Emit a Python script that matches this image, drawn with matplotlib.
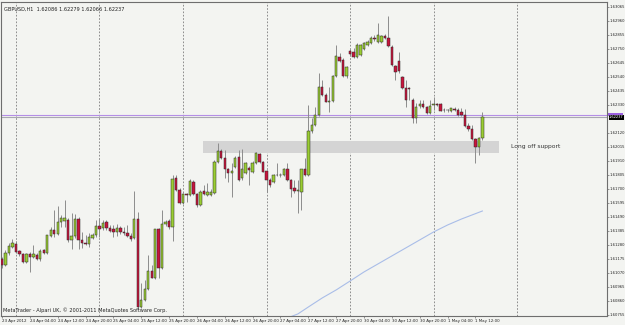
import matplotlib
matplotlib.use("Agg")
import matplotlib.pyplot as plt
import matplotlib.transforms as mtransforms
from matplotlib.patches import Rectangle
import numpy as np

# GBPUSD H1 candles, first bar = 23 Apr 2012 20:00
opens = [
    1.61175, 1.61130, 1.61220, 1.61265, 1.61288, 1.61235, 1.61213, 1.61153, 1.61213, 1.61190,
    1.61205, 1.61175, 1.61243, 1.61220, 1.61348, 1.61393, 1.61363, 1.61453, 1.61460, 1.61468,
    1.61318, 1.61348, 1.61475, 1.61318, 1.61295, 1.61288, 1.61333, 1.61355, 1.61423, 1.61408,
    1.61453, 1.61408, 1.61400, 1.61378, 1.61408, 1.61378, 1.61370, 1.61348, 1.61333, 1.61475,
    1.60815, 1.60868, 1.60950, 1.61085, 1.61033, 1.61400, 1.61108, 1.61438, 1.61460, 1.61415,
    1.61783, 1.61693, 1.61595, 1.61663, 1.61655, 1.61753, 1.61663, 1.61580, 1.61685, 1.61655,
    1.61655, 1.61670, 1.61903, 1.61985, 1.61933, 1.61850, 1.61820, 1.61865, 1.61940, 1.61783,
    1.61820, 1.61858, 1.61828, 1.61895, 1.61963, 1.61903, 1.61835, 1.61768, 1.61753, 1.61805,
    1.61805, 1.61805, 1.61850, 1.61768, 1.61708, 1.61685, 1.61678, 1.61850, 1.61805, 1.62135,
    1.62180, 1.62255, 1.62465, 1.62405, 1.62353, 1.62360, 1.62548, 1.62690, 1.62668, 1.62548,
    1.62735, 1.62728, 1.62690, 1.62705, 1.62750, 1.62780, 1.62795, 1.62833, 1.62803, 1.62803,
    1.62848, 1.62833, 1.62765, 1.62623, 1.62660, 1.62540, 1.62458, 1.62458, 1.62368, 1.62233,
    1.62323, 1.62338, 1.62315, 1.62270, 1.62330, 1.62338, 1.62338, 1.62293, 1.62293, 1.62285,
    1.62300, 1.62293, 1.62278, 1.62255, 1.62173, 1.62150, 1.62075, 1.62015, 1.62086,
]
highs = [
    1.61190, 1.61243, 1.61295, 1.61325, 1.61310, 1.61243, 1.61220, 1.61220, 1.61228, 1.61280,
    1.61220, 1.61250, 1.61250, 1.61355, 1.61415, 1.61543, 1.61573, 1.61505, 1.61618, 1.61483,
    1.61520, 1.61513, 1.61490, 1.61378, 1.61355, 1.61370, 1.61370, 1.61468, 1.61483, 1.61468,
    1.61468, 1.61430, 1.61430, 1.61438, 1.61423, 1.61415, 1.61430, 1.61370, 1.61685, 1.61528,
    1.60995, 1.61018, 1.61205, 1.61130, 1.61400, 1.61408, 1.61543, 1.61468, 1.61475, 1.61805,
    1.61805, 1.61708, 1.61670, 1.61670, 1.61775, 1.61768, 1.61670, 1.61693, 1.61730, 1.61745,
    1.61700, 1.61918, 1.62045, 1.62000, 1.61993, 1.61858, 1.61895, 1.61948, 1.61993, 1.62000,
    1.61903, 1.61873, 1.61910, 1.61978, 1.61970, 1.61910, 1.61843, 1.61783, 1.61813, 1.61895,
    1.61820, 1.61858, 1.61895, 1.61775, 1.61768, 1.61768, 1.61850, 1.61933, 1.62330, 1.62233,
    1.62315, 1.62570, 1.62518, 1.62420, 1.62465, 1.62555, 1.62780, 1.62720, 1.62683, 1.62623,
    1.62750, 1.62758, 1.62795, 1.62788, 1.62803, 1.62818, 1.62848, 1.62855, 1.62945, 1.62855,
    1.62863, 1.62998, 1.62780, 1.62630, 1.62728, 1.62548, 1.62518, 1.62465, 1.62383, 1.62345,
    1.62368, 1.62368, 1.62323, 1.62368, 1.62390, 1.62345, 1.62345, 1.62308, 1.62300, 1.62308,
    1.62315, 1.62308, 1.62308, 1.62300, 1.62195, 1.62180, 1.62083, 1.62090, 1.62279,
]
lows = [
    1.61108, 1.61123, 1.61205, 1.61258, 1.61220, 1.61198, 1.61145, 1.61145, 1.61078, 1.61183,
    1.61168, 1.61160, 1.61213, 1.61213, 1.61340, 1.61340, 1.61355, 1.61415, 1.61415, 1.61303,
    1.61250, 1.61333, 1.61250, 1.61258, 1.61280, 1.61265, 1.61325, 1.61340, 1.61340, 1.61393,
    1.61393, 1.61378, 1.61340, 1.61348, 1.61363, 1.61355, 1.61340, 1.61310, 1.61325, 1.60800,
    1.60808, 1.60860, 1.60943, 1.61033, 1.61025, 1.61033, 1.61100, 1.61423, 1.61400, 1.61310,
    1.61685, 1.61588, 1.61588, 1.61603, 1.61648, 1.61655, 1.61565, 1.61573, 1.61655, 1.61648,
    1.61648, 1.61663, 1.61895, 1.61925, 1.61783, 1.61753, 1.61640, 1.61858, 1.61760, 1.61768,
    1.61813, 1.61730, 1.61820, 1.61888, 1.61895, 1.61828, 1.61678, 1.61715, 1.61745, 1.61798,
    1.61790, 1.61798, 1.61760, 1.61640, 1.61670, 1.61520, 1.61543, 1.61798, 1.61798, 1.62120,
    1.62173, 1.62248, 1.62398, 1.62353, 1.62278, 1.62353, 1.62540, 1.62653, 1.62540, 1.62533,
    1.62698, 1.62683, 1.62683, 1.62698, 1.62743, 1.62773, 1.62788, 1.62810, 1.62795, 1.62795,
    1.62825, 1.62765, 1.62623, 1.62518, 1.62570, 1.62450, 1.62315, 1.62368, 1.62195, 1.62195,
    1.62308, 1.62308, 1.62263, 1.62263, 1.62293, 1.62323, 1.62285, 1.62278, 1.62278, 1.62278,
    1.62285, 1.62248, 1.62248, 1.62165, 1.62135, 1.62068, 1.61895, 1.61955, 1.62066,
]
closes = [
    1.61130, 1.61220, 1.61273, 1.61295, 1.61228, 1.61213, 1.61153, 1.61213, 1.61190, 1.61213,
    1.61175, 1.61235, 1.61220, 1.61355, 1.61393, 1.61363, 1.61453, 1.61483, 1.61483, 1.61318,
    1.61348, 1.61475, 1.61318, 1.61295, 1.61288, 1.61340, 1.61355, 1.61423, 1.61400, 1.61445,
    1.61408, 1.61385, 1.61378, 1.61408, 1.61378, 1.61370, 1.61348, 1.61325, 1.61475, 1.60815,
    1.60868, 1.60950, 1.61085, 1.61033, 1.61400, 1.61108, 1.61438, 1.61453, 1.61415, 1.61775,
    1.61693, 1.61595, 1.61663, 1.61655, 1.61760, 1.61663, 1.61580, 1.61678, 1.61663, 1.61678,
    1.61678, 1.61903, 1.61985, 1.61933, 1.61850, 1.61820, 1.61835, 1.61933, 1.61768, 1.61850,
    1.61895, 1.61843, 1.61895, 1.61970, 1.61903, 1.61828, 1.61768, 1.61730, 1.61805, 1.61803,
    1.61808, 1.61850, 1.61768, 1.61700, 1.61685, 1.61693, 1.61850, 1.61805, 1.62135, 1.62180,
    1.62255, 1.62465, 1.62405, 1.62353, 1.62360, 1.62548, 1.62698, 1.62660, 1.62548, 1.62615,
    1.62713, 1.62690, 1.62780, 1.62780, 1.62795, 1.62803, 1.62833, 1.62825, 1.62855, 1.62848,
    1.62833, 1.62773, 1.62630, 1.62578, 1.62585, 1.62458, 1.62368, 1.62450, 1.62233, 1.62315,
    1.62338, 1.62315, 1.62270, 1.62323, 1.62338, 1.62330, 1.62285, 1.62290, 1.62290, 1.62305,
    1.62293, 1.62255, 1.62255, 1.62173, 1.62150, 1.62075, 1.62015, 1.62083, 1.62237,
]

# slow moving average, read at a few bars
ma_bars = [82, 85, 88, 92, 96, 100, 104, 108, 112, 116, 120, 124, 128, 132, 135, 138]
ma_vals = [1.60733, 1.60763, 1.60815, 1.60883, 1.60943, 1.61010, 1.61078, 1.61138,
           1.61198, 1.61258, 1.61318, 1.61378, 1.61430, 1.61475, 1.61505, 1.61535]

# 1.62225 is hidden under the bid box in the original
price_ticks = [1.63065, 1.62960, 1.62855, 1.62750, 1.62645, 1.62540, 1.62435, 1.62330,
               1.62120, 1.62015, 1.61910, 1.61805, 1.61700, 1.61595, 1.61490,
               1.61385, 1.61280, 1.61175, 1.61070, 1.60965, 1.60860, 1.60755]
time_ticks = [0, 8, 16, 24, 32, 40, 48, 56, 64, 72, 80, 88, 96, 104, 112, 120, 128, 136]
time_labels = ["23 Apr 2012", "24 Apr 04:00", "24 Apr 12:00", "24 Apr 20:00",
               "25 Apr 04:00", "25 Apr 12:00", "25 Apr 20:00", "26 Apr 04:00",
               "26 Apr 12:00", "26 Apr 20:00", "27 Apr 04:00", "27 Apr 12:00",
               "27 Apr 20:00", "30 Apr 04:00", "30 Apr 12:00", "30 Apr 20:00",
               "1 May 04:00", "1 May 12:00"]
day_breaks = [4, 28, 52, 76, 100, 124, 148]

bid = 1.62237
zone_start, zone_end = 57.8, 142.8
zone_low, zone_high = 1.6197, 1.6206
ask_line = 1.62255

bg = "#f3f4f1"
bull = "#9acd32"
bear = "#c8143c"

fig = plt.figure(figsize=(6.25, 3.25), dpi=100, facecolor=bg)
ax = fig.add_axes([1 / 625, 9 / 325, 606 / 625, 314 / 325], facecolor=bg)
ax.set_xlim(-0.29, 173.8)
ax.set_ylim(1.607475, 1.631025)

for x in day_breaks:
    ax.axvline(x, color="#7c7c7c", lw=0.6, ls=(0, (2, 2)), zorder=1)

# support zone
ax.fill_between([zone_start, zone_end], zone_low, zone_high, color="#d4d4d4", lw=0, zorder=1)
ax.text(146.3, (zone_low + zone_high) / 2, "Long off support", fontsize=4.3,
        color="#333333", va="center", ha="left", zorder=5)

ax.plot(ma_bars, ma_vals, color="#a9bde8", lw=0.8, zorder=2)

ax.axhline(ask_line, color="#b48ee6", lw=0.8, zorder=2)
ax.axhline(bid, color="#a8a8b0", lw=0.8, zorder=2)

idx = np.arange(len(opens))
o = np.array(opens)
c = np.array(closes)
ax.vlines(idx, lows, highs, color="#8c8c8c", lw=0.7, zorder=3)
bottoms = np.minimum(o, c)
heights = np.maximum(np.abs(c - o), 0.00003)
colors = [bull if cc >= oo else bear for oo, cc in zip(o, c)]
ax.bar(idx, heights, bottom=bottoms, width=0.68, color=colors,
       edgecolor="#2a2a2a", linewidth=0.35, zorder=4)

# axes styling
for s in ax.spines.values():
    s.set_color("#6e6e6e")
    s.set_linewidth(0.8)
ax.yaxis.tick_right()
ax.set_yticks(price_ticks)
ax.set_yticklabels([f"{p:.5f}" for p in price_ticks])
ax.set_xticks(time_ticks)
ax.set_xticklabels(time_labels, ha="left")
ax.tick_params(axis="y", labelsize=2.7, length=1.2, width=0.5, pad=0.3, colors="#6e6e6e",
               labelcolor="#222222")
ax.tick_params(axis="x", labelsize=2.9, length=1.5, width=0.5, pad=0.6, colors="#6e6e6e",
               labelcolor="#222222")

# price boxes on the right scale
trans = mtransforms.blended_transform_factory(ax.transAxes, ax.transData)
ax.add_patch(Rectangle((1.002, bid + 0.0001), 0.024, 0.00022, transform=trans,
                       fc="#9b5fe0", ec="none", clip_on=False, zorder=6))
ax.text(1.0035, bid, f"{bid:.5f}", transform=trans, fontsize=2.6, color="white",
        va="center", ha="left", clip_on=False, zorder=7,
        bbox=dict(boxstyle="square,pad=0.15", fc="black", ec="none"))

ax.text(0.005, 0.985, "GBPUSD,H1  1.62086 1.62279 1.62066 1.62237", transform=ax.transAxes,
        fontsize=3.6, color="#222222", va="top", ha="left")
ax.text(0.004, 0.008, "MetaTrader - Alpari UK, \u00a9 2001-2011 MetaQuotes Software Corp.",
        transform=ax.transAxes, fontsize=3.6, color="#222222", va="bottom", ha="left")

fig.savefig("out.png", dpi=100, facecolor=bg)
